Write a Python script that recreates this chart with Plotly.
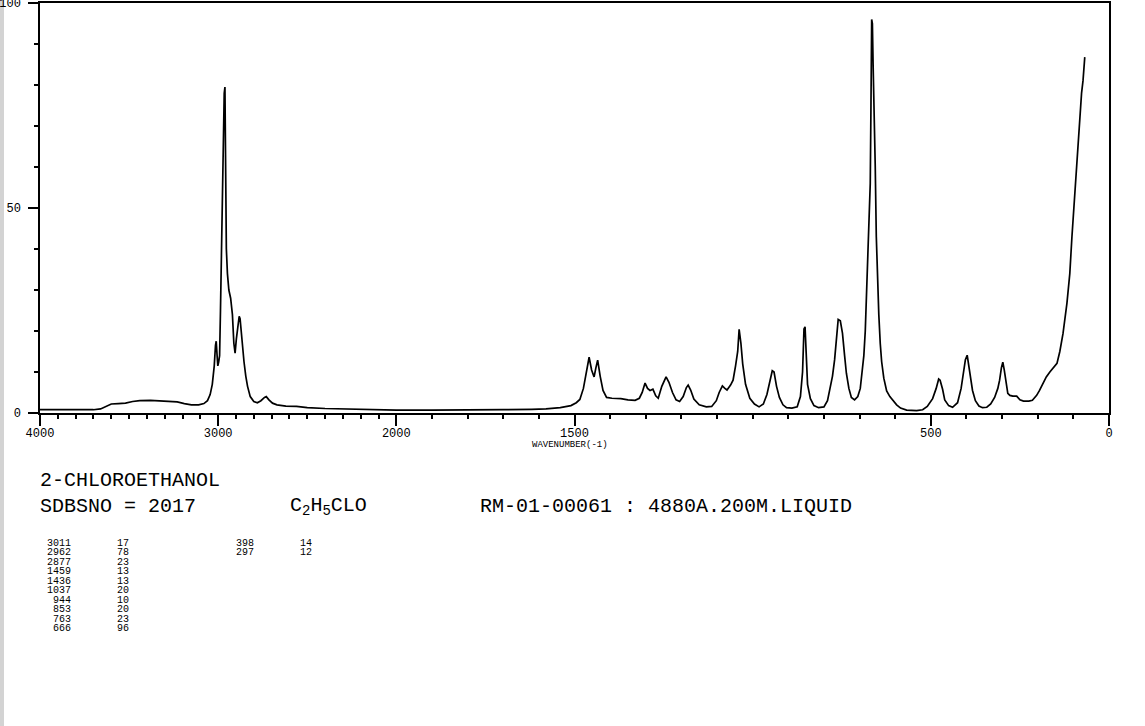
"""Raman spectrum of 2-chloroethanol, SDBS style plot."""

import plotly.graph_objects as go

# spectrum trace: wavenumber (cm-1) and relative intensity
wavenumber = [
    4000, 3900, 3800, 3700, 3660, 3630, 3600, 3560, 3520, 3480, 3440, 3380, 3320,
    3270, 3230, 3190, 3150, 3110, 3080, 3060, 3045, 3033, 3022, 3015, 3011, 3006,
    3002, 2997, 2992, 2987, 2980, 2972, 2966, 2962, 2958, 2954, 2948, 2940, 2930,
    2920, 2912, 2905, 2898, 2890, 2882, 2877, 2870, 2862, 2855, 2845, 2835, 2820,
    2800, 2780, 2760, 2740, 2730, 2715, 2695, 2670, 2620, 2560, 2500, 2400, 2300,
    2200, 2100, 2000, 1900, 1800, 1700, 1620, 1580, 1540, 1510, 1495, 1485, 1475,
    1466, 1459, 1452, 1445, 1440, 1435, 1428, 1420, 1410, 1395, 1370, 1350, 1330,
    1318, 1310, 1302, 1295, 1288, 1280, 1272, 1265, 1255, 1243, 1235, 1225, 1215,
    1205, 1195, 1186, 1181, 1174, 1165, 1150, 1130, 1115, 1102, 1094, 1085, 1078,
    1072, 1062, 1055, 1048, 1042, 1038, 1033, 1028, 1020, 1008, 995, 982, 970,
    960, 950, 945, 940, 933, 925, 915, 905, 890, 875, 866, 860, 856, 853, 850,
    846, 838, 828, 815, 800, 790, 782, 776, 770, 765, 760, 754, 748, 742, 737,
    730, 723, 714, 705, 698, 692, 688, 684, 681, 677, 673, 670, 668, 666, 664,
    662, 659, 656, 653, 649, 646, 642, 638, 632, 624, 615, 605, 596, 585, 568,
    540, 523, 510, 495, 485, 478, 474, 467, 461, 450, 439, 425, 415, 408, 403,
    398, 394, 389, 383, 375, 365, 355, 343, 332, 321, 312, 307, 302, 298, 294,
    289, 284, 278, 270, 259, 250, 240, 225, 215, 203, 195, 186, 176, 166, 156,
    146, 138, 129, 118, 110, 104, 96, 90, 82, 77, 73, 68,
]
intensity = [
    0.8, 0.8, 0.8, 0.8, 1.0, 1.6, 2.2, 2.3, 2.4, 2.8, 3.0, 3.1, 3.0,
    2.9, 2.7, 2.3, 2.0, 2.0, 2.3, 3.0, 4.5, 7.0, 11.5, 16.5, 17.5, 14,
    11.5, 12.5, 14, 25, 45, 62, 78, 79.5, 60, 40, 34, 30, 28,
    24, 17, 14.6, 18, 21, 23.6, 23, 19, 16, 12.5, 9, 6.5, 4,
    2.8, 2.5, 3.0, 3.8, 4.0, 3.2, 2.4, 2.0, 1.7, 1.6, 1.3, 1.1, 1.0,
    0.8, 0.8, 0.7, 0.7, 0.7, 0.8, 0.9, 1.0, 1.3, 1.8, 2.5, 3.3, 6,
    10, 13.6, 10.5, 8.8, 11, 12.9, 9, 5.5, 3.8, 3.6, 3.5, 3.2, 3.1,
    3.6, 5, 7.3, 6, 5.5, 5.8, 4.2, 3.6, 6.5, 8.8, 7.5, 5, 3.2,
    2.8, 4, 6.2, 6.8, 5.6, 3.4, 2.0, 1.5, 1.6, 3, 5, 6.6, 6.0,
    5.6, 6.8, 8, 11.5, 15, 20.4, 17, 12, 7, 3.6, 2.2, 1.5, 2.2,
    4.5, 8.5, 10.3, 10, 6.5, 3.8, 2, 1.3, 1.2, 1.5, 4, 10, 20.5, 21, 14,
    7, 3.5, 1.8, 1.3, 1.5, 3, 6, 9, 13, 18.5, 22.8, 22.5, 19.5, 14, 9.7,
    6, 3.8, 3.2, 4, 6, 10, 14, 20, 29, 40, 50, 56, 75, 96, 95,
    85, 74, 60, 43, 30, 24, 17, 12.5, 8.5, 5.4, 4, 3, 2, 1.2, 0.7,
    0.6, 0.8, 1.6, 3.5, 6, 8.3, 8, 5.8, 3.2, 1.8, 1.4, 2.5, 6, 10, 13,
    14.1, 12, 8.5, 5.5, 3, 1.7, 1.3, 1.4, 2.2, 3.8, 6, 8, 11, 12.4, 10.5,
    7, 4.8, 4.3, 4.1, 4.1, 3.2, 2.9, 2.9, 3.1, 4.3, 5.5, 7.2, 8.8, 10, 11,
    12.1, 15, 19.4, 26.8, 34, 43, 54, 61, 74, 78, 81, 86.8,
]

# peak list printed under the chart
peak_wn = [3011, 2962, 2877, 1459, 1436, 1037, 944, 853, 763, 666, 398, 297]
peak_int = [17, 78, 23, 13, 13, 20, 10, 20, 23, 96, 14, 12]

x_labels = [4000, 3000, 2000, 1500, 500, 0]
y_labels = [0, 50, 100]

compound = "2-CHLOROETHANOL"
sdbs_no = "SDBSNO = 2017"
formula = "C<sub>2</sub>H<sub>5</sub>CLO"
run_info = "RM-01-00061 : 4880A.200M.LIQUID"

FONT = "Liberation Mono"
W, H = 1145, 726
L, R, T, B = 40, 1109, 3, 413


def axis_pos(w):
    """Wavenumber -> axis position; scale is halved above 2000 cm-1."""
    return w if w <= 2000 else 2000 + (w - 2000) / 2


def px(x):
    return (x - L) / (R - L)


def py(y):
    return (B - y) / (B - T)


fig = go.Figure(
    go.Scatter(
        x=[axis_pos(w) for w in wavenumber],
        y=intensity,
        mode="lines",
        line=dict(color="black", width=1.7),
        hoverinfo="skip",
    )
)

fig.update_xaxes(
    range=[axis_pos(4000), 0],
    showline=True, linecolor="black", linewidth=1.5, mirror=True,
    showgrid=False, zeroline=False,
    tickmode="array",
    tickvals=[axis_pos(v) for v in x_labels],
    ticktext=[str(v) for v in x_labels],
    ticks="outside", ticklen=11, tickwidth=1.5, tickcolor="black",
    ticklabelstandoff=-3,
    minor=dict(
        tickmode="array",
        tickvals=[axis_pos(v) for v in range(0, 4001, 100)],
        ticks="outside", ticklen=4, tickwidth=1.5, tickcolor="black",
        showgrid=False,
    ),
    tickfont=dict(family=FONT, size=12, color="black"),
)
fig.update_yaxes(
    range=[0, 100],
    showline=True, linecolor="black", linewidth=1.5, mirror=True,
    showgrid=False, zeroline=False,
    tickmode="array",
    tickvals=y_labels,
    ticktext=[str(v) for v in y_labels],
    ticks="outside", ticklen=10, tickwidth=1.5, tickcolor="black",
    ticklabelstandoff=5,
    ticklabeloverflow="allow",
    minor=dict(
        tickmode="array",
        tickvals=list(range(0, 101, 10)),
        ticks="outside", ticklen=4, tickwidth=1.5, tickcolor="black",
        showgrid=False,
    ),
    tickfont=dict(family=FONT, size=12, color="black"),
)

annotations = [
    dict(x=px(570), y=py(445), text="WAVENUMBER(-1)", font=dict(size=9)),
    dict(x=px(38), y=py(481), text=compound, xanchor="left", font=dict(size=20)),
    dict(x=px(38), y=py(506), text=sdbs_no, xanchor="left", font=dict(size=20)),
    dict(x=px(288), y=py(506), text=formula, xanchor="left", font=dict(size=20)),
    dict(x=px(478), y=py(506), text=run_info, xanchor="left", font=dict(size=20)),
]

# peak table: ten rows per column group
for i, (wn, val) in enumerate(zip(peak_wn, peak_int)):
    col, row = divmod(i, 10)
    yy = py(543 + 9.5 * row)
    x_wn = 72 if col == 0 else 255
    x_val = 116 if col == 0 else 299
    annotations.append(dict(x=px(x_wn), y=yy, text=str(wn), xanchor="right",
                            borderpad=0, font=dict(size=10)))
    annotations.append(dict(x=px(x_val), y=yy, text=str(val), xanchor="left",
                            borderpad=0, font=dict(size=10)))

for a in annotations:
    a.update(xref="paper", yref="paper", showarrow=False, yanchor="middle")
    a["font"].update(family=FONT, color="black")

fig.update_layout(
    width=W, height=H,
    margin=dict(l=L, r=W - R, t=T, b=H - B, pad=0, autoexpand=False),
    paper_bgcolor="white", plot_bgcolor="white",
    showlegend=False,
    annotations=annotations,
    shapes=[
        dict(type="rect", xref="paper", yref="paper",
             x0=px(0), x1=px(4), y0=py(H), y1=py(0),
             fillcolor="#d3d3d3", line=dict(width=0), layer="below"),
    ],
)

# drop the page's default body margin so the figure sits at the window corner
fig.write_html(
    "out.html",
    config={"displayModeBar": False},
    post_script="document.body.style.margin='0';",
)
